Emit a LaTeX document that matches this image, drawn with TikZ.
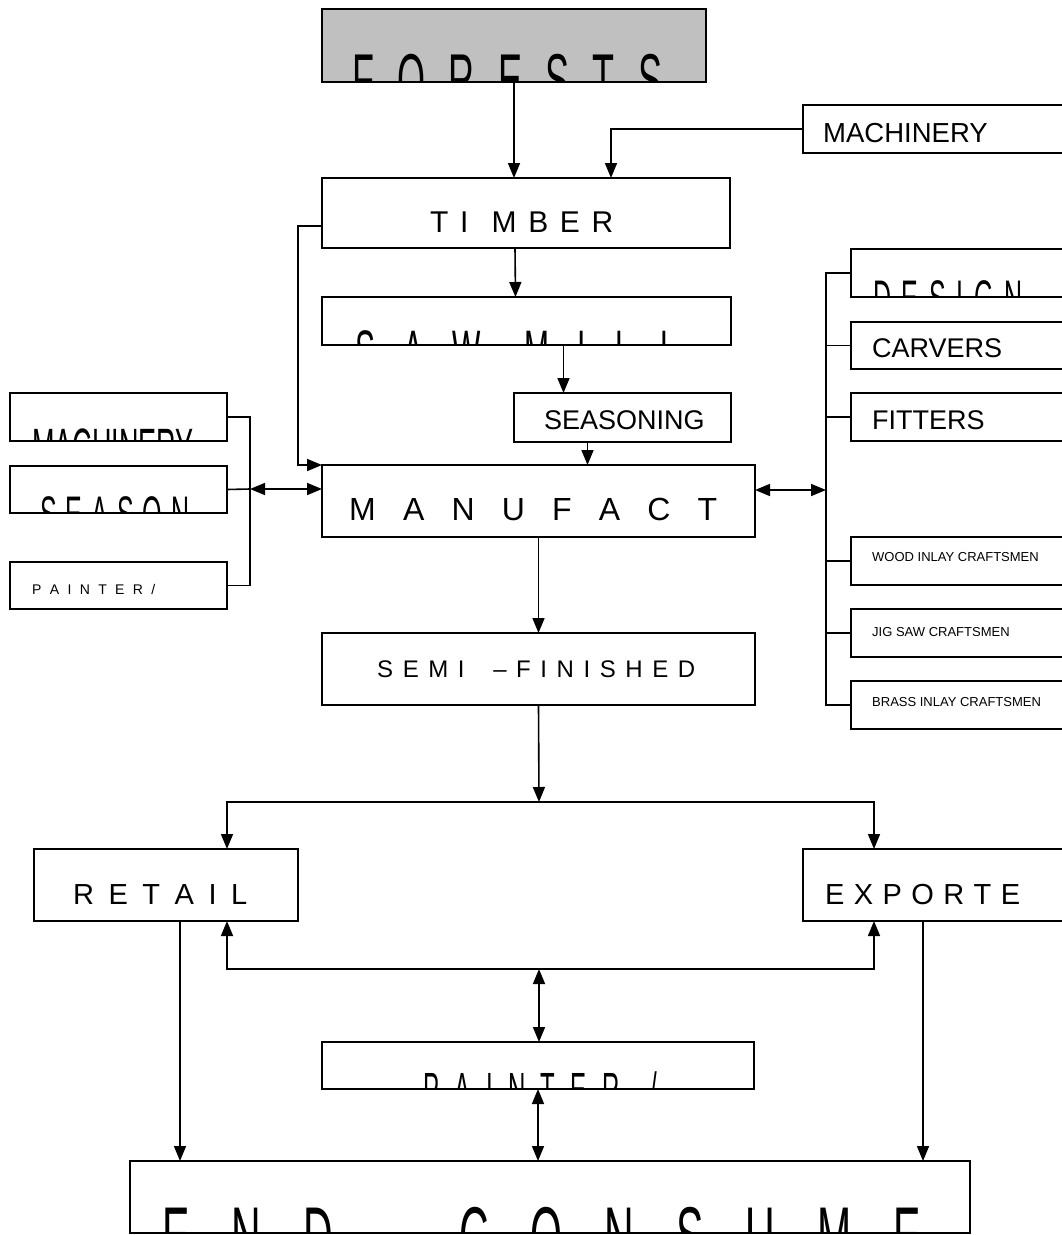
\documentclass[tikz,border=0pt]{standalone}
\usepackage{fontspec}
\setmainfont{Liberation Sans}
\usepackage{graphicx}
\usetikzlibrary{arrows.meta}
\definecolor{forestgray}{RGB}{192,192,192}
\newcommand{\setsize}[1]{\fontsize{#1}{#1}\selectfont}
\newcommand{\tall}[1]{\scalebox{1}[2]{#1}}

\begin{document}
\begin{tikzpicture}[x=1pt, y=-1pt,
		box/.style={draw, line width=1.6pt, anchor=north west, inner sep=0pt, outer sep=0pt},
		word/.style={anchor=base west, inner sep=0pt},
		line/.style={line width=1.6pt},
		arr/.style={-{Triangle[length=15pt,width=12pt]}, line width=1.6pt},
		arrs/.style={{Triangle[length=15pt,width=12pt]}-{Triangle[length=15pt,width=12pt]}, line width=1.6pt}]
	\useasboundingbox (0,0) rectangle (1062,1235);
	% boxes
	\node[box, fill=forestgray, minimum width=384, minimum height=73] (forests) at (322,9) {};
	\node[box, minimum width=408, minimum height=70] (timber) at (322,178) {};
	\node[box, minimum width=277, minimum height=48] (machinery) at (803,105) {};
	\node[box, minimum width=409, minimum height=48] (sawmill) at (322,297) {};
	\node[box, minimum width=217, minimum height=49] (seasoning) at (514,393) {};
	\node[box, minimum width=433, minimum height=72] (manuf) at (322,465) {};
	\node[box, minimum width=433, minimum height=72] (semi) at (322,633) {};
	\node[box, minimum width=217, minimum height=48] (lmachinery) at (10,393) {};
	\node[box, minimum width=217, minimum height=47] (lseason) at (10,466) {};
	\node[box, minimum width=217, minimum height=47] (lpainter) at (10,562) {};
	\node[box, minimum width=229, minimum height=48] (design) at (851,249) {};
	\node[box, minimum width=229, minimum height=47] (carvers) at (851,322) {};
	\node[box, minimum width=229, minimum height=48] (fitters) at (851,393) {};
	\node[box, minimum width=229, minimum height=48] (wood) at (851,537) {};
	\node[box, minimum width=229, minimum height=48] (jigsaw) at (851,609) {};
	\node[box, minimum width=229, minimum height=48] (brass) at (851,681) {};
	\node[box, minimum width=264, minimum height=72] (retail) at (34,849) {};
	\node[box, minimum width=277, minimum height=72] (exporter) at (803,849) {};
	\node[box, minimum width=432, minimum height=47] (painter) at (322,1042) {};
	\node[box, minimum width=840, minimum height=72] (consumer) at (130,1161) {};

	% labels
	\node[word, font=\setsize{30}] (timber-t) at (430,232) {\makebox[183pt]{T\hfill I\hfill\hfill M\hfill B\hfill E\hfill R}};
	\node[word, font=\setsize{27.5}] (machinery-t) at (823,142) {MACHINERY};
	\node[word, font=\setsize{27}] (seasoning-t) at (544,429) {SEASONING};
	\node[word, font=\setsize{32}] (manuf-t) at (349,520) {\makebox[368pt]{M\hfill A\hfill N\hfill U\hfill F\hfill A\hfill C\hfill T}};
	\node[word, font=\setsize{24}] (semi-t) at (377,677) {\makebox[318pt]{S\hfill E\hfill M\hfill I\hfill\hfill\hfill \textendash\hfill F\hfill I\hfill N\hfill I\hfill S\hfill H\hfill E\hfill D}};
	\node[word, font=\setsize{14}] (lpainter-t) at (32,594) {\makebox[123pt]{P\hfill A\hfill I\hfill N\hfill T\hfill E\hfill R\hfill /}};
	\node[word, font=\setsize{27}] (carvers-t) at (872,357) {CARVERS};
	\node[word, font=\setsize{27}] (fitters-t) at (872,429) {FITTERS};
	\node[word, font=\setsize{13}] (wood-t) at (872,561) {WOOD INLAY CRAFTSMEN};
	\node[word, font=\setsize{13}] (jigsaw-t) at (872,636) {JIG SAW CRAFTSMEN};
	\node[word, font=\setsize{13}] (brass-t) at (872,706) {BRASS INLAY CRAFTSMEN};
	\node[word, font=\setsize{29}] (retail-t) at (73,904) {\makebox[174pt]{R\hfill E\hfill T\hfill A\hfill I\hfill L}};
	\node[word, font=\setsize{29}] (exporter-t) at (825,904) {\makebox[195pt]{E\hfill X\hfill P\hfill O\hfill R\hfill T\hfill E}};

	% labels cut by their boxes
	\begin{scope}
		\clip (forests.north west) rectangle (forests.south east);
		\node[word, font=\setsize{36}] (forests-t) at (352,104) {\tall{\makebox[310pt]{F\hfill O\hfill R\hfill E\hfill S\hfill T\hfill S}}};
	\end{scope}
	\begin{scope}
		\clip (sawmill.north west) rectangle (sawmill.south east);
		\node[word, font=\setsize{30}] (sawmill-t) at (355,372) {\tall{\makebox[322pt]{S\hfill A\hfill W\hspace{0pt plus 1.5fill}M\hfill I\hfill L\hfill L}}};
	\end{scope}
	\begin{scope}
		\clip (lmachinery.north west) rectangle (lmachinery.south east);
		\node[word, font=\setsize{27}] (lmachinery-t) at (32,466) {\tall{MACHINERY}};
	\end{scope}
	\begin{scope}
		\clip (lseason.north west) rectangle (lseason.south east);
		\node[word, font=\setsize{25}] (lseason-t) at (40,531) {\tall{\makebox[149pt]{S\hfill E\hfill A\hfill S\hfill O\hfill N}}};
	\end{scope}
	\begin{scope}
		\clip (design.north west) rectangle (design.south east);
		\node[word, font=\setsize{25}] (design-t) at (873,315) {\tall{\makebox[149pt]{D\hfill E\hfill S\hfill I\hfill G\hfill N}}};
	\end{scope}
	\begin{scope}
		\clip (painter.north west) rectangle (painter.south east);
		\node[word, font=\setsize{24}] (painter-t) at (423,1106) {\tall{\makebox[234pt]{P\hfill A\hfill I\hfill N\hfill T\hfill E\hfill R\hfill\hfill /}}};
	\end{scope}
	\begin{scope}
		\clip (consumer.north west) rectangle (consumer.south east);
		\node[word, font=\setsize{41}] (consumer-t) at (162,1264) {\tall{\makebox[759pt]{E\hfill N\hfill D\hspace{0pt plus 3fill}C\hfill O\hfill N\hfill S\hfill U\hfill M\hfill E}}};
	\end{scope}

	% top chain
	\draw[arr] (forests.south) -- (forests.south |- timber.north);
	\draw[arr] (machinery.west) -| ([xshift=85]timber.north);
	\draw[arr] ([yshift=-13]timber.west) -| ([xshift=-24]manuf.north west) -- (manuf.north west);
	\draw[arr] ([xshift=-11]timber.south) -- ([xshift=-11]sawmill.north);
	\draw[arr] ([xshift=37]sawmill.south) -- ([xshift=37]sawmill.south |- seasoning.north);
	\draw[arr] ([xshift=-35]seasoning.south) -- ([xshift=-35]seasoning.south |- manuf.north);
	\draw[arr] (manuf.south) -- (semi.north);

	% left bracket
	\coordinate (lbar) at (250,489);
	\draw[line] (lmachinery.east) -| (lbar) |- (lpainter.east);
	\draw[line] (lseason.east) -- (lbar);
	\draw[arrs] (lbar) -- ([yshift=12]manuf.west);

	% right bracket
	\coordinate (rbar) at (826,490);
	\draw[line] (design.west) -| (rbar) |- (brass.west);
	\foreach \n in {carvers,fitters,wood,jigsaw} {
		\draw[line] (\n.west) -- (\n.west -| rbar);
		}
	\draw[arrs] ([yshift=11]manuf.east) -- (rbar);

	% to the sellers
	\coordinate (split) at (539,802);
	\coordinate (join) at (539,969);
	\draw[arr] (semi.south) -- (split);
	\draw[arr] (split) -| ([xshift=61]retail.north);
	\draw[arr] (split) -| ([xshift=71]exporter.north west);
	\draw[arr] (join) -| ([xshift=61]retail.south);
	\draw[arr] (join) -| ([xshift=71]exporter.south west);
	\draw[arrs] (join) -- (join |- painter.north);
	\draw[arrs] (painter.south) -- (painter.south |- consumer.north);
	\draw[arr] ([xshift=146]retail.south west) -- ([xshift=146]retail.south west |- consumer.north);
	\draw[arr] ([xshift=120]exporter.south west) -- ([xshift=120]exporter.south west |- consumer.north);
\end{tikzpicture}
\end{document}
